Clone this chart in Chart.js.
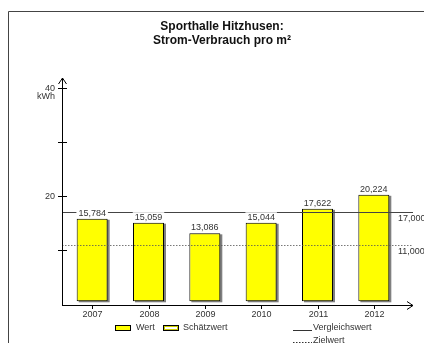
<!DOCTYPE html>
<html>
<head>
<meta charset="utf-8">
<script src="https://cdn.jsdelivr.net/npm/chart.js@4.4.0/dist/chart.umd.min.js"></script>
<style>
  html, body { margin: 0; padding: 0; background: #fff; }
  #wrap { width: 424px; height: 343px; position: relative; }
</style>
</head>
<body>
<div id="wrap"><canvas id="stromChart"></canvas></div>
<script>
// data
const years = ['2007', '2008', '2009', '2010', '2011', '2012'];
const werte = [15.784, 15.059, 13.086, 15.044, 17.622, 20.224];
const vergleichswert = 17;
const zielwert = 11;
const yTicks = [10, 20, 30, 40];
const yTickLabels = ['', '20', '', '40'];

const FONT = '"Liberation Sans", Arial, sans-serif';

function fmt(v) {
    return v.toFixed(3).replace('.', ',');
}

const decorPlugin = {
    id: 'decor',
    beforeDatasetsDraw(chart) {
        const ctx = chart.ctx;
        const meta = chart.getDatasetMeta(0);
        ctx.save();
        ctx.fillStyle = '#808080';
        meta.data.forEach(function (bar) {
            const w = bar.width;
            ctx.fillRect(bar.x - w / 2 + 2, bar.y + 1, w, bar.base - bar.y);
        });
        ctx.restore();
    },
    afterDatasetsDraw(chart) {
        const ctx = chart.ctx;
        const x = chart.scales.x;
        const y = chart.scales.y;
        const axisX = 62, axisY = 305, axisEnd = 413;
        ctx.save();

        // frame
        ctx.strokeStyle = '#444';
        ctx.lineWidth = 1;
        ctx.beginPath();
        ctx.moveTo(8.5, 343);
        ctx.lineTo(8.5, 11.5);
        ctx.lineTo(424, 11.5);
        ctx.stroke();

        // title
        ctx.fillStyle = '#111';
        ctx.font = 'bold 12px ' + FONT;
        ctx.textAlign = 'center';
        ctx.textBaseline = 'middle';
        ctx.fillText('Sporthalle Hitzhusen:', 222, 27);
        ctx.fillText('Strom-Verbrauch pro m²', 222, 41);

        // reference lines
        const yV = Math.round(y.getPixelForValue(vergleichswert)) + 0.5;
        const yZ = Math.round(y.getPixelForValue(zielwert)) + 0.5;
        ctx.strokeStyle = '#444';
        ctx.lineWidth = 1.2;
        ctx.beginPath();
        ctx.moveTo(axisX, yV);
        ctx.lineTo(axisEnd, yV);
        ctx.stroke();
        ctx.strokeStyle = '#555';
        ctx.lineWidth = 0.8;
        ctx.setLineDash([1.5, 1.5]);
        ctx.beginPath();
        ctx.moveTo(axisX, yZ);
        ctx.lineTo(axisEnd, yZ);
        ctx.stroke();
        ctx.setLineDash([]);

        ctx.font = '9px ' + FONT;
        ctx.fillStyle = '#333';
        ctx.textAlign = 'left';
        ctx.fillText(fmt(vergleichswert), 398, yV + 6);
        ctx.fillText(fmt(zielwert), 398, yZ + 6);

        // value labels with white background
        const meta = chart.getDatasetMeta(0);
        ctx.textAlign = 'center';
        meta.data.forEach(function (bar, i) {
            const t = fmt(werte[i]);
            const tw = ctx.measureText(t).width;
            const cy = bar.y - 5.5;
            ctx.fillStyle = '#fff';
            ctx.fillRect(bar.x - tw / 2 - 2, cy - 5, tw + 4, 9);
            ctx.fillStyle = '#333';
            ctx.fillText(t, bar.x, cy);
        });

        // y axis
        ctx.strokeStyle = '#000';
        ctx.lineWidth = 1;
        ctx.beginPath();
        ctx.moveTo(axisX + 0.5, axisY);
        ctx.lineTo(axisX + 0.5, 78);
        ctx.moveTo(axisX + 0.5 - 4, 84);
        ctx.lineTo(axisX + 0.5, 78);
        ctx.lineTo(axisX + 0.5 + 4, 84);
        ctx.stroke();
        yTicks.forEach(function (v, i) {
            const py = Math.round(y.getPixelForValue(v)) + 0.5;
            ctx.beginPath();
            ctx.moveTo(axisX - 4, py);
            ctx.lineTo(axisX + 5, py);
            ctx.stroke();
            if (yTickLabels[i]) {
                ctx.fillStyle = '#333';
                ctx.textAlign = 'right';
                ctx.fillText(yTickLabels[i], 55, py);
            }
        });
        ctx.textAlign = 'right';
        ctx.fillText('kWh', 55, y.getPixelForValue(40) + 9);

        // x axis
        ctx.beginPath();
        ctx.moveTo(axisX, axisY + 0.5);
        ctx.lineTo(axisEnd, axisY + 0.5);
        ctx.moveTo(axisEnd - 6, axisY + 0.5 - 4);
        ctx.lineTo(axisEnd, axisY + 0.5);
        ctx.lineTo(axisEnd - 6, axisY + 0.5 + 4);
        ctx.stroke();
        ctx.textAlign = 'center';
        years.forEach(function (yr, i) {
            const px = Math.round(x.getPixelForValue(i)) + 0.5;
            ctx.beginPath();
            ctx.moveTo(px, axisY);
            ctx.lineTo(px, axisY + 4);
            ctx.stroke();
            ctx.fillStyle = '#333';
            ctx.fillText(yr, px, 315);
        });

        // legend
        ctx.textAlign = 'left';
        ctx.lineWidth = 1;
        ctx.fillStyle = '#ffff00';
        ctx.fillRect(115.5, 325.5, 15, 5);
        ctx.strokeStyle = '#000';
        ctx.strokeRect(115.5, 325.5, 15, 5);
        ctx.fillStyle = '#333';
        ctx.fillText('Wert', 136, 328);
        ctx.fillStyle = '#fff';
        ctx.fillRect(163.5, 325.5, 15, 5);
        ctx.strokeStyle = '#000';
        ctx.strokeRect(163.5, 325.5, 15, 5);
        ctx.strokeStyle = '#cccc00';
        ctx.strokeRect(164.5, 326.5, 13, 3);
        ctx.fillStyle = '#333';
        ctx.fillText('Schätzwert', 183, 328);

        ctx.strokeStyle = '#333';
        ctx.beginPath();
        ctx.moveTo(293, 330.5);
        ctx.lineTo(312, 330.5);
        ctx.stroke();
        ctx.fillText('Vergleichswert', 313, 328);
        ctx.setLineDash([1.5, 1.5]);
        ctx.beginPath();
        ctx.moveTo(293, 342.5);
        ctx.lineTo(312, 342.5);
        ctx.stroke();
        ctx.setLineDash([]);
        ctx.fillText('Zielwert', 313, 341);

        ctx.restore();
    }
};

const stromChart = new Chart(document.getElementById('stromChart'), {
    type: 'bar',
    data: {
        labels: years,
        datasets: [{
            label: 'Wert',
            data: werte,
            backgroundColor: '#ffff00',
            borderColor: '#000',
            borderWidth: 1,
            borderSkipped: false,
            base: 0.5,
            categoryPercentage: 1,
            barPercentage: 0.55
        }]
    },
    options: {
        responsive: true,
        maintainAspectRatio: false,
        animation: false,
        layout: {
            padding: { left: 64, right: 22, top: 88, bottom: 39 }
        },
        scales: {
            x: { display: false, offset: true },
            y: { display: false, min: 0, max: 40 }
        },
        plugins: {
            legend: { display: false },
            title: { display: false },
            tooltip: { enabled: false }
        }
    },
    plugins: [decorPlugin]
});
</script>
</body>
</html>
